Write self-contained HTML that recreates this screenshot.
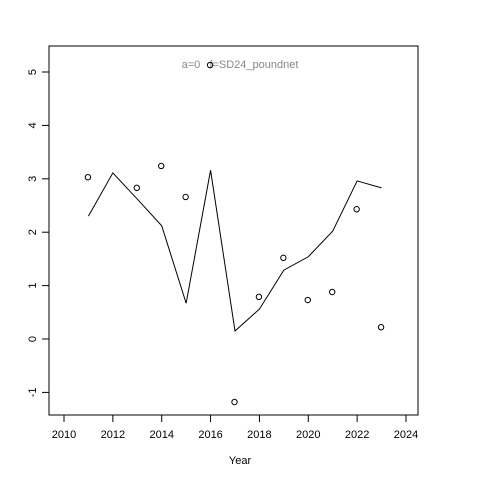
<!DOCTYPE html>
<html><head><meta charset="utf-8"><style>body{margin:0;background:#fff}svg{display:block}</style></head>
<body>
<svg id="chart" width="480" height="480" xmlns="http://www.w3.org/2000/svg" font-family="Liberation Sans, sans-serif">
<rect x="0" y="0" width="480" height="480" fill="#fff"/>
<rect x="49" y="46" width="369" height="369" fill="none" stroke="#000"/>
<text x="240" y="68" font-size="11" fill="#888" text-anchor="middle">a=0&#160;&#160;&#160;f=SD24_poundnet</text>
<text x="240" y="464" font-size="11" text-anchor="middle">Year</text>
<g id="g"></g>
</svg>
<script>
const lineYears=[2011,2012,2013,2014,2015,2016,2017,2018,2019,2020,2021,2022,2023];
const lineValues=[2.30,3.11,2.62,2.12,0.67,3.16,0.15,0.56,1.29,1.54,2.02,2.96,2.83];
const pointYears=[2011,2013,2014,2015,2016,2017,2018,2019,2020,2021,2022,2023];
const pointValues=[3.03,2.83,3.24,2.66,5.13,-1.18,0.79,1.52,0.73,0.88,2.43,0.22];
const xTicks=[2010,2012,2014,2016,2018,2020,2022,2024];
const yTicks=[-1,0,1,2,3,4,5];
const NS='http://www.w3.org/2000/svg';
const g=document.getElementById('g');
const X=v=>64+(v-2010)*(406-64)/14;
const Y=v=>339-v*53.4;
function mk(t,a){const e=document.createElementNS(NS,t);for(const k in a)e.setAttribute(k,a[k]);g.appendChild(e);return e;}
mk('line',{x1:X(2010),x2:X(2024),y1:415,y2:415,stroke:'#000'});
xTicks.forEach(t=>{
 const l=mk('line',{x1:X(t),x2:X(t),y1:415,y2:422,stroke:'#000'});
 
 
 const tx=mk('text',{x:X(t),y:438,'font-size':11,'text-anchor':'middle'});tx.textContent=t;
 
 
});
mk('line',{x1:49,x2:49,y1:Y(-1),y2:Y(5),stroke:'#000'});
yTicks.forEach(t=>{
 const l=mk('line',{x1:42,x2:49,y1:Y(t),y2:Y(t),stroke:'#000'});
 
 
 const tx=mk('text',{x:36,y:Y(t),'font-size':11,'text-anchor':'middle',transform:`rotate(-90 36 ${Y(t)})`});tx.textContent=t;
 
 
});
const p=mk('polyline',{points:lineYears.map((y,i)=>X(y)+','+Y(lineValues[i])).join(' '),fill:'none',stroke:'#000'});


pointYears.forEach((y,i)=>{
 const c=mk('circle',{cx:X(y)-0.5,cy:Y(pointValues[i]),r:2.7,fill:'none',stroke:'#000'});
 
 
});
</script>
</body></html>
